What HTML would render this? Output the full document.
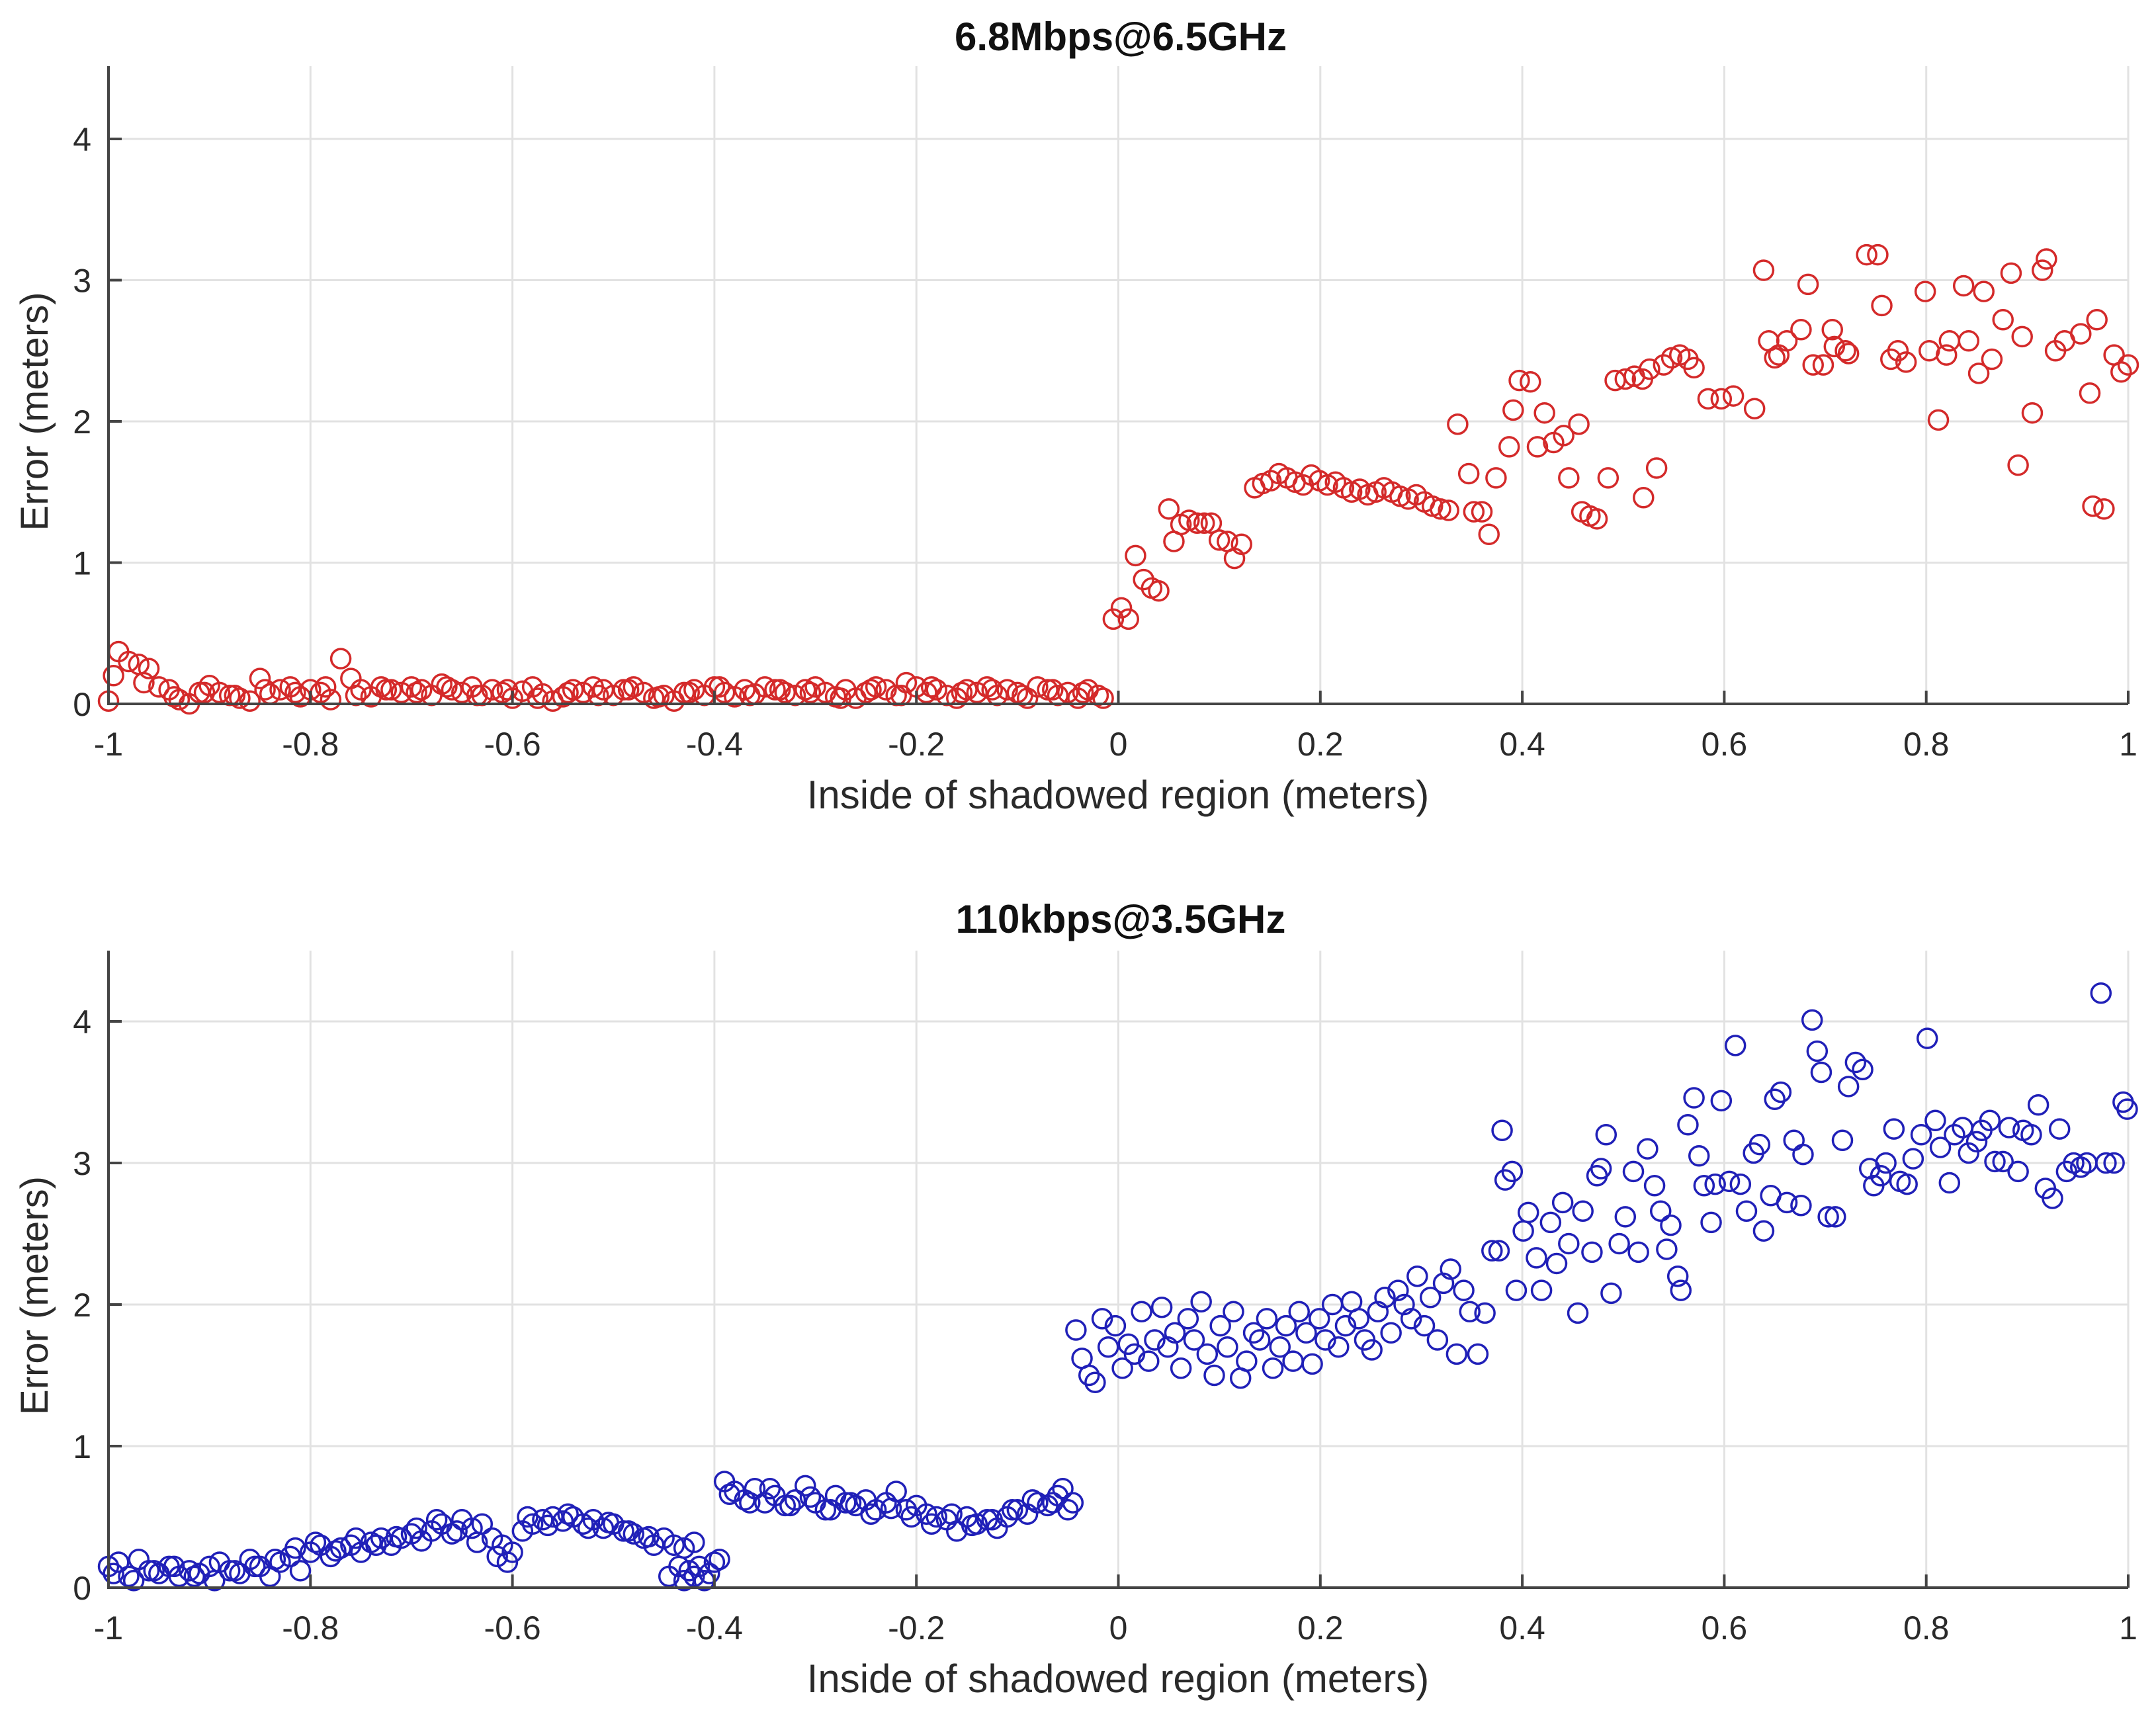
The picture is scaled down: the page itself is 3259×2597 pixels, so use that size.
<!DOCTYPE html>
<html><head><meta charset="utf-8">
<style>
html,body{margin:0;padding:0;background:#fff;}
svg{display:block;font-family:"Liberation Sans",Arial,sans-serif;}
</style></head>
<body>
<svg id="chart" width="3259" height="2597" viewBox="0 0 3259 2597" xmlns="http://www.w3.org/2000/svg">
<rect width="3259" height="2597" fill="#fff"/>
<g id="top"></g>
<g id="bot"></g>
</svg>
<script>
const xTicks = [-1,-0.8,-0.6,-0.4,-0.2,0,0.2,0.4,0.6,0.8,1];
const xTickLabels = ["-1","-0.8","-0.6","-0.4","-0.2","0","0.2","0.4","0.6","0.8","1"];
const yTicks = [0,1,2,3,4];
const yTickLabels = ["0","1","2","3","4"];

const redX = [-1,-0.99,-0.98,-0.97,-0.96,-0.95,-0.94,-0.93,-0.92,-0.91,-0.9,-0.89,-0.88,-0.87,-0.86,-0.85,-0.84,-0.83,-0.82,-0.81,-0.8,-0.79,-0.78,-0.77,-0.76,-0.75,-0.74,-0.73,
-0.72,-0.71,-0.7,-0.69,-0.68,-0.67,-0.66,-0.65,-0.64,-0.63,-0.62,-0.61,-0.6,-0.59,-0.58,-0.57,-0.56,-0.55,-0.54,-0.53,-0.52,-0.51,-0.5,-0.49,-0.48,-0.47,-0.46,-0.45,-0.44,-0.43,-0.42,-0.41,-0.4,-0.39,-0.38,-0.37,-0.36,-0.35,-0.34,-0.33,-0.32,-0.31,-0.3,-0.29,-0.28,-0.27,-0.26,-0.25,-0.24,-0.23,-0.22,-0.21,-0.2,-0.19,-0.18,-0.17,-0.16,-0.15,-0.14,-0.13,-0.12,-0.11,-0.1,-0.09,-0.08,-0.07,-0.06,-0.05,-0.04,-0.03,-0.02,-0.015,
-0.995,-0.965,-0.935,-0.905,-0.875,-0.845,-0.815,-0.785,-0.755,-0.725,-0.695,-0.665,-0.635,-0.605,-0.575,-0.545,-0.515,-0.485,-0.455,-0.425,-0.395,-0.365,-0.335,-0.305,-0.275,-0.245,-0.215,-0.185,-0.155,-0.125,-0.095,-0.065,-0.035,
-0.005,0.003,0.01,0.017,0.025,0.033,0.04,0.05,0.055,0.062,0.07,0.078,0.085,0.092,0.1,0.108,0.115,0.122,
0.135,0.143,0.151,0.159,0.167,0.175,0.183,0.191,0.199,0.207,0.215,0.223,0.231,0.239,0.247,0.255,0.263,0.271,0.279,0.287,0.295,0.303,0.311,0.319,0.327,
0.336,0.347,0.352,0.36,0.367,0.374,0.387,0.391,0.397,0.408,0.415,0.422,0.431,0.441,0.446,0.456,0.459,0.467,0.474,0.485,
0.492,0.502,0.511,0.519,0.52,0.533,0.526,0.54,0.548,0.556,0.564,0.57,0.584,0.597,0.609,0.63,0.639,0.644,0.65,0.654,0.662,0.676,0.683,0.688,0.698,0.707,0.709,0.72,0.723,0.741,0.752,0.756,0.765,0.772,0.78,0.799,0.803,0.812,0.82,0.823,0.837,0.842,0.852,0.857,0.865,0.876,0.884,0.891,0.895,0.905,0.915,0.919,0.928,0.937,0.953,0.962,0.965,0.969,0.976,0.986,0.993,1.0];
const redY = [0.02,0.37,0.3,0.28,0.25,0.12,0.1,0.03,0.0,0.08,0.13,0.08,0.06,0.04,0.02,0.18,0.07,0.1,0.12,0.05,0.1,0.08,0.03,0.32,0.18,0.1,0.05,0.12,
0.1,0.08,0.12,0.1,0.06,0.14,0.1,0.08,0.12,0.06,0.1,0.08,0.04,0.09,0.12,0.07,0.02,0.05,0.1,0.08,0.12,0.1,0.06,0.1,0.12,0.08,0.04,0.06,0.02,0.08,0.1,0.06,0.12,0.08,0.05,0.1,0.07,0.12,0.1,0.08,0.06,0.1,0.12,0.08,0.05,0.1,0.04,0.08,0.12,0.1,0.06,0.15,0.12,0.08,0.1,0.06,0.04,0.1,0.08,0.12,0.06,0.1,0.08,0.04,0.12,0.1,0.06,0.08,0.04,0.1,0.06,0.04,
0.2,0.15,0.05,0.08,0.06,0.1,0.08,0.12,0.06,0.1,0.08,0.12,0.06,0.1,0.04,0.08,0.06,0.1,0.05,0.08,0.12,0.06,0.1,0.08,0.04,0.1,0.06,0.12,0.08,0.1,0.06,0.1,0.08,
0.6,0.68,0.6,1.05,0.88,0.82,0.8,1.38,1.15,1.27,1.3,1.28,1.28,1.28,1.16,1.15,1.03,1.13,
1.53,1.56,1.58,1.63,1.6,1.57,1.55,1.62,1.58,1.55,1.57,1.53,1.5,1.52,1.48,1.5,1.53,1.5,1.47,1.45,1.48,1.43,1.4,1.38,1.37,
1.98,1.63,1.36,1.36,1.2,1.6,1.82,2.08,2.29,2.28,1.82,2.06,1.85,1.9,1.6,1.98,1.36,1.33,1.31,1.6,
2.29,2.3,2.32,2.3,1.46,1.67,2.37,2.4,2.45,2.47,2.44,2.38,2.16,2.16,2.18,2.09,3.07,2.57,2.45,2.47,2.57,2.65,2.97,2.4,2.4,2.65,2.53,2.5,2.48,3.18,3.18,2.82,2.44,2.5,2.42,2.92,2.5,2.01,2.47,2.57,2.96,2.57,2.34,2.92,2.44,2.72,3.05,1.69,2.6,2.06,3.07,3.15,2.5,2.57,2.62,2.2,1.4,2.72,1.38,2.47,2.35,2.4];

const blueX = [-1,-0.99,-0.98,-0.97,-0.96,-0.95,-0.94,-0.93,-0.92,-0.91,-0.9,-0.89,-0.88,-0.87,-0.86,-0.85,-0.84,-0.83,-0.82,-0.81,-0.8,-0.79,-0.78,-0.77,-0.76,-0.75,-0.74,-0.73,-0.72,-0.71,-0.7,-0.69,-0.68,-0.67,-0.66,-0.65,-0.64,-0.63,-0.62,-0.61,-0.6,
-0.995,-0.975,-0.955,-0.935,-0.915,-0.895,-0.875,-0.855,-0.835,-0.815,-0.795,-0.775,-0.755,-0.735,-0.715,-0.695,-0.675,-0.655,-0.635,-0.615,-0.605,
-0.59,-0.58,-0.57,-0.56,-0.55,-0.54,-0.53,-0.52,-0.51,-0.5,-0.49,-0.48,-0.47,-0.46,-0.45,-0.44,-0.43,-0.42,-0.585,-0.565,-0.545,-0.525,-0.505,-0.485,-0.465,
-0.445,-0.435,-0.43,-0.425,-0.42,-0.415,-0.41,-0.405,-0.4,-0.395,
-0.39,-0.38,-0.37,-0.36,-0.35,-0.34,-0.33,-0.32,-0.31,-0.3,-0.29,-0.28,-0.27,-0.26,-0.25,-0.24,-0.23,-0.22,-0.21,-0.2,-0.19,-0.18,-0.17,-0.16,-0.15,-0.14,-0.13,-0.12,-0.11,-0.1,-0.09,-0.08,-0.07,-0.06,-0.055,-0.05,-0.045,-0.385,-0.365,-0.345,-0.325,-0.305,-0.285,-0.265,-0.245,-0.225,-0.205,-0.185,-0.165,-0.145,-0.125,-0.105,-0.085,-0.065,
-0.042,-0.036,-0.029,-0.023,-0.016,-0.01,-0.003,0.004,0.01,0.016,0.023,0.03,0.036,0.043,0.049,0.056,0.062,0.069,0.075,0.082,0.088,0.095,0.101,0.108,0.114,0.121,0.127,0.134,0.14,0.147,0.153,0.16,0.166,0.173,0.179,0.186,0.192,0.199,0.205,0.212,0.218,0.225,0.231,0.238,0.244,0.251,0.257,0.264,0.27,0.277,0.283,0.29,0.296,0.303,0.309,0.316,0.322,0.329,0.335,0.342,0.348,
0.356,0.363,0.37,0.377,0.38,0.383,0.39,0.394,0.401,0.406,0.414,0.419,0.428,0.434,0.44,0.446,0.455,0.46,0.469,0.474,0.478,0.483,0.488,0.496,0.502,0.51,0.515,0.524,0.531,0.537,0.543,0.547,0.554,0.557,0.564,0.57,0.575,0.58,0.587,0.591,0.597,0.605,0.611,0.616,0.622,0.629,0.635,0.639,0.646,0.65,0.656,0.662,0.669,0.676,0.678,0.687,0.692,0.696,0.703,0.71,0.717,0.723,0.73,0.737,0.744,0.748,0.755,0.76,0.768,0.774,0.781,0.787,0.795,0.801,0.809,0.814,0.823,0.828,0.836,0.842,0.85,0.855,0.863,0.868,0.876,0.882,0.891,0.896,0.904,0.911,0.918,0.925,0.932,0.939,0.946,0.953,0.959,0.973,0.978,0.986,0.995,0.999];
const blueY = [0.15,0.18,0.08,0.2,0.12,0.1,0.15,0.08,0.12,0.1,0.15,0.18,0.12,0.1,0.2,0.15,0.08,0.18,0.22,0.12,0.25,0.3,0.22,0.28,0.3,0.25,0.32,0.35,0.3,0.35,0.38,0.33,0.4,0.45,0.38,0.48,0.42,0.45,0.35,0.3,0.25,
0.1,0.05,0.12,0.15,0.08,0.05,0.12,0.15,0.2,0.28,0.32,0.26,0.35,0.3,0.36,0.42,0.48,0.4,0.32,0.22,0.18,
0.4,0.45,0.48,0.5,0.47,0.5,0.45,0.48,0.42,0.45,0.4,0.38,0.35,0.3,0.35,0.3,0.28,0.32,0.5,0.44,0.52,0.42,0.46,0.4,0.36,
0.08,0.15,0.05,0.12,0.08,0.15,0.05,0.1,0.18,0.2,
0.75,0.68,0.62,0.7,0.6,0.65,0.58,0.62,0.72,0.6,0.55,0.65,0.6,0.58,0.62,0.55,0.6,0.68,0.55,0.58,0.52,0.5,0.48,0.4,0.5,0.45,0.48,0.42,0.5,0.55,0.52,0.6,0.58,0.65,0.7,0.55,0.6,0.66,0.6,0.7,0.58,0.64,0.55,0.6,0.52,0.56,0.5,0.45,0.52,0.44,0.48,0.55,0.62,0.6,
1.82,1.62,1.5,1.45,1.9,1.7,1.85,1.55,1.72,1.65,1.95,1.6,1.75,1.98,1.7,1.8,1.55,1.9,1.75,2.02,1.65,1.5,1.85,1.7,1.95,1.48,1.6,1.8,1.75,1.9,1.55,1.7,1.85,1.6,1.95,1.8,1.58,1.9,1.75,2.0,1.7,1.85,2.02,1.9,1.75,1.68,1.95,2.05,1.8,2.1,2.0,1.9,2.2,1.85,2.05,1.75,2.15,2.25,1.65,2.1,1.95,
1.65,1.94,2.38,2.38,3.23,2.88,2.94,2.1,2.52,2.65,2.33,2.1,2.58,2.29,2.72,2.43,1.94,2.66,2.37,2.91,2.96,3.2,2.08,2.43,2.62,2.94,2.37,3.1,2.84,2.66,2.39,2.56,2.2,2.1,3.27,3.46,3.05,2.84,2.58,2.85,3.44,2.87,3.83,2.85,2.66,3.07,3.13,2.52,2.77,3.45,3.5,2.72,3.16,2.7,3.06,4.01,3.79,3.64,2.62,2.62,3.16,3.54,3.71,3.66,2.96,2.84,2.91,3.0,3.24,2.87,2.85,3.03,3.2,3.88,3.3,3.11,2.86,3.2,3.25,3.07,3.15,3.23,3.3,3.01,3.01,3.25,2.94,3.23,3.2,3.41,2.82,2.75,3.24,2.94,3.0,2.97,3.0,4.2,3.0,3.0,3.43,3.38];

const NS = "http://www.w3.org/2000/svg";
const L = 164, R = 3217;
function xs(v){ return L + (v + 1) / 2 * (R - L); }
function mk(tag, attrs, parent){ const e = document.createElementNS(NS, tag); for (const k in attrs) e.setAttribute(k, attrs[k]); parent.appendChild(e); return e; }

function panel(g, y0, top, unit, title, titleY, xs_, ys_, color, prefix){
  const ys = v => y0 - v * unit;
  xTicks.forEach(t => {
    const l = mk('line', {x1: xs(t), x2: xs(t), y1: top, y2: y0, stroke: '#e2e2e2', 'stroke-width': 3}, g);
    
    
  });
  yTicks.forEach(t => {
    const l = mk('line', {x1: L, x2: R, y1: ys(t), y2: ys(t), stroke: '#e2e2e2', 'stroke-width': 3}, g);
    
    
  });
  const pts = mk('g', {fill: 'none', stroke: color, 'stroke-width': 3.5}, g);
  
  
  for (let i = 0; i < xs_.length; i++) {
    const c = mk('circle', {cx: xs(xs_[i]), cy: ys(ys_[i]), r: 14.5}, pts);
    
    
  }
  const ax = mk('path', {d: `M${L},${top} L${L},${y0} L${R},${y0}`, fill: 'none', stroke: '#444', 'stroke-width': 4}, g);
  
  
  xTicks.forEach((t, i) => {
    const tk = mk('line', {x1: xs(t), x2: xs(t), y1: y0, y2: y0 - 20, stroke: '#444', 'stroke-width': 4}, g);
    
    
    const tx = mk('text', {x: xs(t), y: y0 + 78, 'text-anchor': 'middle', 'font-size': 50, fill: '#2a2a2a'}, g);
    tx.textContent = xTickLabels[i];
    
    
  });
  yTicks.forEach((t, i) => {
    const tk = mk('line', {x1: L, x2: L + 20, y1: ys(t), y2: ys(t), stroke: '#444', 'stroke-width': 4}, g);
    
    
    const tx = mk('text', {x: 138, y: ys(t) + 18, 'text-anchor': 'end', 'font-size': 50, fill: '#2a2a2a'}, g);
    tx.textContent = yTickLabels[i];
    
    
  });
  const tt = mk('text', {x: 1694, y: titleY, 'text-anchor': 'middle', 'font-size': 60, 'font-weight': 'bold', fill: '#111'}, g);
  tt.textContent = title;
  
  
  const xl = mk('text', {x: 1690, y: y0 + 158, 'text-anchor': 'middle', 'font-size': 60, fill: '#2a2a2a'}, g);
  xl.textContent = 'Inside of shadowed region (meters)';
  
  
  const cy = (top + y0) / 2 + 40;
  const yl = mk('text', {x: 72, y: cy, 'text-anchor': 'middle', 'font-size': 58, fill: '#2a2a2a', transform: `rotate(-90 72 ${cy})`}, g);
  yl.textContent = 'Error (meters)';
  
  
}
panel(document.getElementById('top'), 1064, 100, 213.5, '6.8Mbps@6.5GHz', 76, redX, redY, '#d42a2a', 'red');
panel(document.getElementById('bot'), 2400, 1437, 214, '110kbps@3.5GHz', 1410, blueX, blueY, '#2020b8', 'blue');
</script>
</body></html>
